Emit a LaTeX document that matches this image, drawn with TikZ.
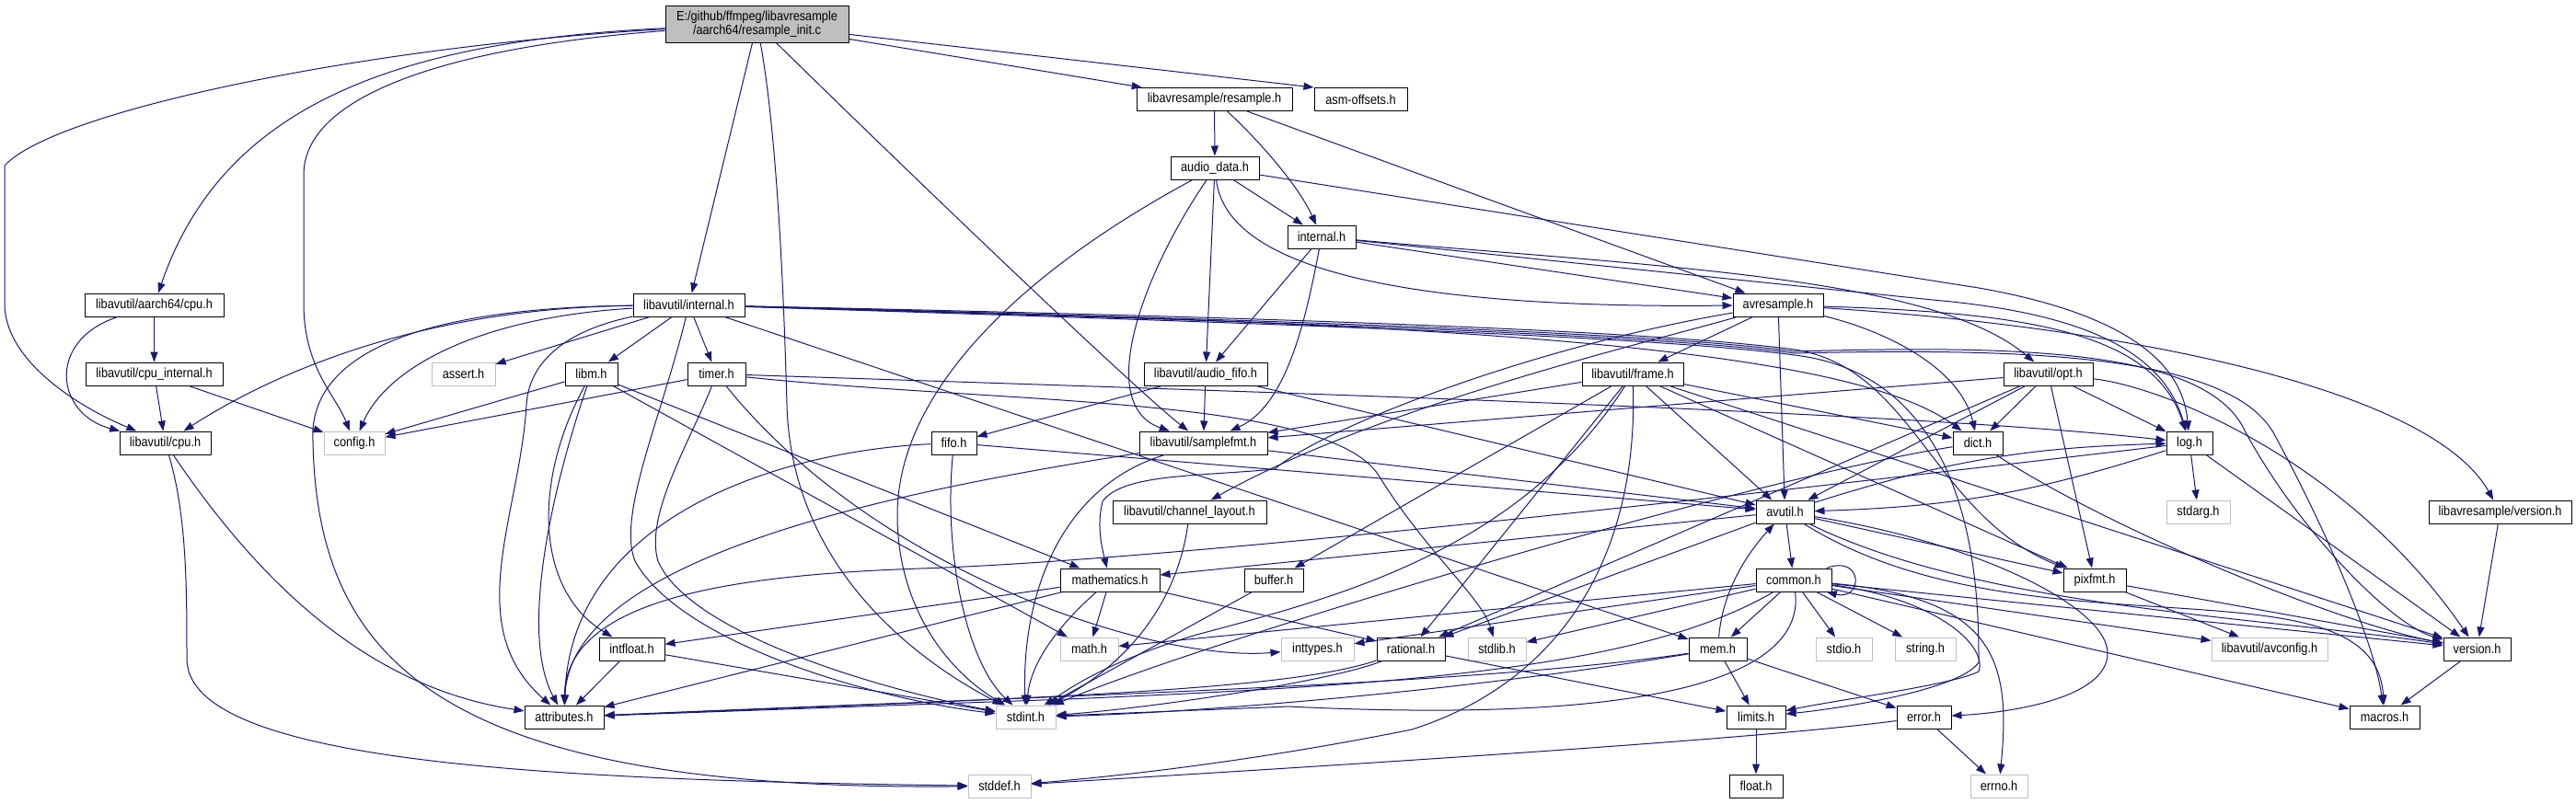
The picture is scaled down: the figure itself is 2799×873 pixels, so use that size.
\documentclass[tikz,border=0pt]{standalone}
\usepackage{fontspec}
\setmainfont[FakeStretch=0.88]{Liberation Sans}
\usetikzlibrary{arrows.meta}
\definecolor{edgeblue}{HTML}{191970}
\definecolor{sysgray}{HTML}{BFBFBF}
\definecolor{mainfill}{HTML}{BFBFBF}
\begin{document}
\begin{tikzpicture}[x=1pt,y=-1pt,
 box/.style={draw=black, line width=1.0pt, fill=white, inner sep=0pt, minimum height=25pt, font=\fontsize{14.5}{15}\selectfont, align=center, text=black},
 sysbox/.style={box, draw=sysgray},
 ed/.style={draw=edgeblue, line width=1.0pt, -{Triangle[length=11pt,width=8pt]}}]
\path[use as bounding box, fill=white] (0,0) rectangle (2799,873);

% ---------------- nodes ----------------
\node[box, fill=mainfill, minimum width=199pt, minimum height=40pt] (main) at (822.5,26) {E:/github/ffmpeg/libavresample\\/aarch64/resample\_init.c};
\node[box, minimum width=169pt] (rs) at (1319.5,108) {libavresample/resample.h};
\node[box, minimum width=101pt] (asm) at (1478.5,108) {asm-offsets.h};
\node[box, minimum width=96pt] (ad) at (1320,182.5) {audio\_data.h};
\node[box, minimum width=74pt] (ri) at (1436,257.5) {internal.h};
\node[box, minimum width=121pt] (lint) at (748.5,331.5) {libavutil/internal.h};
\node[box, minimum width=151pt] (acpu) at (167.5,331.5) {libavutil/aarch64/cpu.h};
\node[box, minimum width=98pt] (avr) at (1932,331.5) {avresample.h};
\node[box, minimum width=149pt] (cpui) at (167.5,406.5) {libavutil/cpu\_internal.h};
\node[sysbox, minimum width=69pt] (assert) at (503.5,406.5) {assert.h};
\node[box, minimum width=57pt] (libm) at (642.5,406.5) {libm.h};
\node[box, minimum width=63pt] (timer) at (778.5,406.5) {timer.h};
\node[box, minimum width=134pt] (afifo) at (1310,406.5) {libavutil/audio\_fifo.h};
\node[box, minimum width=110pt] (frame) at (1774,406.5) {libavutil/frame.h};
\node[box, minimum width=97pt] (opt) at (2225.5,406.5) {libavutil/opt.h};
\node[box, minimum width=99pt] (cpu) at (179.5,481.5) {libavutil/cpu.h};
\node[sysbox, minimum width=66pt] (config) at (385,481.5) {config.h};
\node[box, minimum width=49pt] (fifo) at (1036.5,481.5) {fifo.h};
\node[box, minimum width=139pt] (sfmt) at (1307.5,481.5) {libavutil/samplefmt.h};
\node[box, minimum width=54pt] (dict) at (2149,481.5) {dict.h};
\node[box, minimum width=50pt] (log) at (2379,481.5) {log.h};
\node[box, minimum width=167pt] (chl) at (1292.5,556.5) {libavutil/channel\_layout.h};
\node[box, minimum width=63pt] (avutil) at (1939.5,556.5) {avutil.h};
\node[sysbox, minimum width=69pt] (stdarg) at (2388.5,556.5) {stdarg.h};
\node[box, minimum width=155pt] (lrv) at (2716.5,556.5) {libavresample/version.h};
\node[box, minimum width=108pt] (mth) at (1206,630.5) {mathematics.h};
\node[box, minimum width=64pt] (buffer) at (1384,630.5) {buffer.h};
\node[box, minimum width=82pt] (common) at (1949,630.5) {common.h};
\node[box, minimum width=68pt] (pixfmt) at (2276,630.5) {pixfmt.h};
\node[box, minimum width=71pt] (intfloat) at (686.5,705.5) {intfloat.h};
\node[sysbox, minimum width=63pt] (mathh) at (1183.5,705.5) {math.h};
\node[sysbox, minimum width=79pt] (inttypes) at (1431.5,705.5) {inttypes.h};
\node[box, minimum width=74pt] (rational) at (1533,705.5) {rational.h};
\node[sysbox, minimum width=63pt] (stdlib) at (1626.5,705.5) {stdlib.h};
\node[box, minimum width=63pt] (mem) at (1866.5,705.5) {mem.h};
\node[sysbox, minimum width=61pt] (stdio) at (2003.5,705.5) {stdio.h};
\node[sysbox, minimum width=66pt] (strh) at (2092,705.5) {string.h};
\node[sysbox, minimum width=126pt] (avconfig) at (2466,705.5) {libavutil/avconfig.h};
\node[box, minimum width=73pt] (version) at (2691.5,705.5) {version.h};
\node[box, minimum width=86pt] (attr) at (613,779.5) {attributes.h};
\node[sysbox, minimum width=65pt] (stdint) at (1114.5,779.5) {stdint.h};
\node[box, minimum width=64pt] (limits) at (1908,779.5) {limits.h};
\node[box, minimum width=59pt] (error) at (2090.5,779.5) {error.h};
\node[box, minimum width=76pt] (macros) at (2591,779.5) {macros.h};
\node[sysbox, minimum width=68pt] (stddef) at (1086,854.5) {stddef.h};
\node[box, minimum width=58pt] (floath) at (1908,854.5) {float.h};
\node[sysbox, minimum width=62pt] (errno) at (2172,854.5) {errno.h};

% ---------------- edges ----------------
% main
\draw[ed] (main) -- (rs);
\draw[ed] (main) -- (asm.north west);
\draw[ed] (main) -- (lint);
\draw[ed] (main) .. controls (1000,200) and (1230,420) .. (sfmt);
\draw[ed] (main) .. controls (420,45) and (240,120) .. (acpu);
\draw[ed] (main) .. controls (400,50) and (60,120) .. (5,180) -- (5,330) .. controls (5,390) and (80,440) .. (cpu);
\draw[ed] (main) .. controls (500,50) and (330,100) .. (330,190) -- (330,330) .. controls (330,400) and (365,430) .. (config);
\draw[ed] (main) .. controls (845,150) and (852,330) .. (855,440) .. controls (860,620) and (1000,720) .. (stdint);
% aarch64/cpu.h, cpu_internal.h, cpu.h
\draw[ed] (acpu) -- (cpui);
\draw[ed] (acpu) .. controls (50,370) and (60,450) .. (cpu);
\draw[ed] (cpui) -- (cpu);
\draw[ed] (cpui) -- (config);
\draw[ed] (cpu) .. controls (300,660) and (420,750) .. (attr);
\draw[ed] (cpu) .. controls (203,560) and (203,640) .. (203,716) .. controls (203,830) and (600,848) .. (stddef);
% libavutil/internal.h
\draw[ed] (lint) -- (assert);
\draw[ed] (lint) -- (libm);
\draw[ed] (lint) -- (timer);
\draw[ed] (lint) .. controls (520,345) and (420,400) .. (config);
\draw[ed] (lint) .. controls (450,335) and (290,410) .. (cpu);
\draw[ed] (lint) .. controls (420,335) and (335,400) .. (340,480) .. controls (345,720) and (480,860) .. (stddef);
\draw[ed] (lint) .. controls (620,358) and (575,390) .. (572,440) .. controls (565,560) and (500,680) .. (attr);
\draw[ed] (lint) .. controls (720,450) and (670,560) .. (690,610) .. controls (740,700) and (950,760) .. (stdint);
\draw[ed] (lint) -- (mem);
\draw[ed] (lint) .. controls (1500,350) and (2000,370) .. (dict);
\draw[ed] (lint) .. controls (1400,345) and (1800,360) .. (1950,380) .. controls (2080,400) and (2100,560) .. (pixfmt);
\draw[ed] (lint) .. controls (1400,348) and (1800,362) .. (1950,382) .. controls (2200,375) and (2400,380) .. (2440,470) .. controls (2500,580) and (2600,680) .. (version);
\draw[ed] (lint) .. controls (1400,350) and (1800,364) .. (1950,384) .. controls (2200,378) and (2420,385) .. (2470,470) .. controls (2530,580) and (2580,700) .. (macros);
\draw[ed] (lint) .. controls (1400,352) and (1800,366) .. (1950,386) .. controls (2150,410) and (2150,650) .. (2150,720) .. controls (2130,750) and (2000,770) .. (limits);
% timer.h
\draw[ed] (timer) -- (config);
\draw[ed] (timer) .. controls (1500,430) and (2100,450) .. (log);
\draw[ed] (timer) .. controls (750,480) and (700,560) .. (715,610) .. controls (750,690) and (960,750) .. (stdint);
\draw[ed] (timer) .. controls (950,620) and (1250,720) .. (inttypes);
\draw[ed] (timer) .. controls (1100,440) and (1450,430) .. (1500,520) .. controls (1550,600) and (1610,650) .. (stdlib);
% libm.h
\draw[ed] (libm) -- (config);
\draw[ed] (libm) .. controls (610,500) and (560,680) .. (attr);
\draw[ed] (libm) .. controls (580,520) and (580,640) .. (intfloat);
\draw[ed] (libm) -- (mth);
\draw[ed] (libm) -- (mathh);
% resample.h
\draw[ed] (rs) -- (ad);
\draw[ed] (rs) .. controls (1365,150) and (1410,200) .. (ri);
\draw[ed] (rs) -- (avr);
% audio_data.h
\draw[ed] (ad) .. controls (1120,290) and (975,420) .. (975,560) .. controls (975,660) and (1030,730) .. (stdint);
\draw[ed] (ad) -- (afifo);
\draw[ed] (ad) .. controls (1240,300) and (1190,440) .. (sfmt);
\draw[ed] (ad) -- (ri);
\draw[ed] (ad) .. controls (1335,310) and (1600,335) .. (avr);
\draw[ed] (ad) -- (2150,313) .. controls (2320,343) and (2372,400) .. (log);
% libavresample internal.h
\draw[ed] (ri) -- (avr);
\draw[ed] (ri) -- (2100,326) .. controls (2260,340) and (2350,380) .. (log);
\draw[ed] (ri) .. controls (1800,290) and (2100,300) .. (opt);
\draw[ed] (ri) -- (afifo);
\draw[ed] (ri) .. controls (1420,340) and (1400,440) .. (sfmt);
% audio_fifo.h
\draw[ed] (afifo) -- (avutil);
\draw[ed] (afifo) -- (fifo);
\draw[ed] (afifo) -- (sfmt);
% avresample.h
\draw[ed] (avr) -- (avutil);
\draw[ed] (avr) .. controls (1800,370) and (1500,440) .. (chl);
\draw[ed] (avr) .. controls (2050,360) and (2130,400) .. (dict);
\draw[ed] (avr) -- (frame);
\draw[ed] (avr) .. controls (2200,340) and (2340,360) .. (log);
\draw[ed] (avr) .. controls (1650,380) and (1430,470) .. (1385,510) .. controls (1300,518) and (1220,515) .. (1198,545) .. controls (1192,570) and (1196,590) .. (mth);
\draw[ed] (avr) .. controls (2300,355) and (2640,420) .. (lrv);
% frame.h
\draw[ed] (frame) -- (avutil);
\draw[ed] (frame) -- (dict);
\draw[ed] (frame) -- (pixfmt);
\draw[ed] (frame) -- (version);
\draw[ed] (frame) -- (sfmt);
\draw[ed] (frame) -- (rational);
\draw[ed] (frame) -- (buffer);
\draw[ed] (frame) .. controls (1650,600) and (1450,650) .. (1300,690) .. controls (1200,720) and (1160,750) .. (stdint);
\draw[ed] (frame) .. controls (1780,600) and (1700,740) .. (1534,793) .. controls (1350,830) and (1200,845) .. (stddef);
% opt.h
\draw[ed] (opt) -- (rational);
\draw[ed] (opt) -- (avutil);
\draw[ed] (opt) -- (dict);
\draw[ed] (opt) -- (log);
\draw[ed] (opt) -- (pixfmt);
\draw[ed] (opt) -- (sfmt);
\draw[ed] (opt) .. controls (2350,420) and (2550,500) .. (version);
% fifo.h, samplefmt.h
\draw[ed] (fifo) .. controls (1025,600) and (1050,720) .. (stdint);
\draw[ed] (fifo) -- (avutil);
\draw[ed] (fifo) .. controls (850,490) and (620,560) .. (attr);
\draw[ed] (sfmt) .. controls (1000,530) and (620,600) .. (attr);
\draw[ed] (sfmt) -- (avutil);
\draw[ed] (sfmt) .. controls (1150,530) and (1110,650) .. (stdint);
% dict.h
\draw[ed] (dict) .. controls (1900,520) and (1300,700) .. (stdint);
\draw[ed] (dict) .. controls (2300,580) and (2550,680) .. (version);
% log.h
\draw[ed] (log) -- (stdarg);
\draw[ed] (log) to[bend left=8] (avutil);
\draw[ed] (log) .. controls (1800,550) and (1250,610) .. (1000,618) .. controls (800,625) and (615,650) .. (attr);
\draw[ed] (log) -- (version);
% channel_layout.h
\draw[ed] (chl) .. controls (1280,650) and (1230,720) .. (stdint);
% avutil.h
\draw[ed] (avutil) -- (common);
\draw[ed] (avutil) to[bend left=8] (log);
\draw[ed] (avutil) .. controls (2150,590) and (2290,660) .. (2290,710) .. controls (2290,760) and (2180,775) .. (error);
\draw[ed] (avutil) -- (rational);
\draw[ed] (avutil) .. controls (2150,660) and (2450,670) .. (version);
\draw[ed] (avutil) .. controls (2200,720) and (2580,600) .. (macros);
\draw[ed] (avutil) -- (mth);
\draw[ed] (avutil) -- (pixfmt);
% mathematics.h
\draw[ed] (mth) .. controls (1150,680) and (1120,720) .. (stdint);
\draw[ed] (mth) -- (mathh);
\draw[ed] (mth) -- (attr);
\draw[ed] (mth) -- (rational);
\draw[ed] (mth) -- (intfloat);
% buffer.h
\draw[ed] (buffer) -- (stdint);
% common.h
\draw[ed] (common) -- (mem);
\draw[ed] (common) -- (stdio);
\draw[ed] (common) -- (strh);
\draw[ed] (common) -- (stdlib);
\draw[ed] (common) -- (inttypes);
\draw[ed] (common) -- (mathh);
\draw[ed] (common) .. controls (1960,720) and (1850,790) .. (1400,768) -- (stdint);
\draw[ed] (common) .. controls (1780,730) and (1500,745) .. (1160,760) -- (attr);
\draw[ed] (common) -- (macros);
\draw[ed] (common) -- (version);
\draw[ed] (common) -- (avconfig);
\draw[ed] (common) .. controls (2100,650) and (2160,700) .. (2150,730) .. controls (2120,745) and (2000,760) .. (limits);
\draw[ed] (common) .. controls (2170,650) and (2185,720) .. (errno);
\draw[ed] (common.20) .. controls +(40,-15) and +(40,10) .. (common.-20);
% pixfmt.h
\draw[ed] (pixfmt) -- (avconfig);
\draw[ed] (pixfmt) -- (version);
% intfloat.h
\draw[ed] (intfloat) -- (stdint);
\draw[ed] (intfloat) -- (attr);
% rational.h
\draw[ed] (rational) .. controls (1450,740) and (1250,770) .. (stdint);
\draw[ed] (rational) -- (limits);
\draw[ed] (rational) .. controls (1400,750) and (1150,758) .. (attr);
% mem.h
\draw[ed] (mem) .. controls (1600,745) and (1150,756) .. (attr);
\draw[ed] (mem) .. controls (1600,750) and (1300,775) .. (stdint);
\draw[ed] (mem) -- (limits);
\draw[ed] (mem) -- (error);
\draw[ed] (mem) .. controls (1872,640) and (1900,600) .. (avutil);
% remaining
\draw[ed] (lrv) -- (version);
\draw[ed] (version) -- (macros);
\draw[ed] (error) -- (errno);
\draw[ed] (error) .. controls (1900,805) and (1400,835) .. (stddef);
\draw[ed] (limits) -- (floath);
\end{tikzpicture}
\end{document}
